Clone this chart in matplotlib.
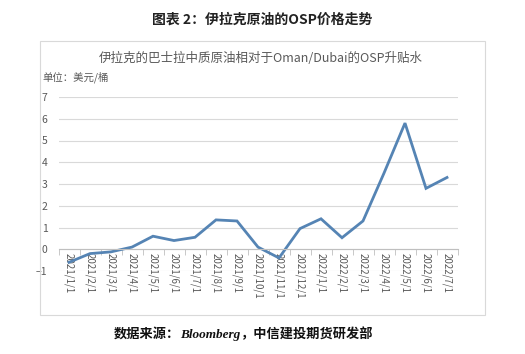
import matplotlib
matplotlib.use("Agg")
import matplotlib.pyplot as plt
from matplotlib.patches import Rectangle

plt.rcParams['font.family'] = ['Noto Sans CJK SC', 'DejaVu Sans']

# monthly OSP premium/discount, USD/bbl
months = ['2021/1/1', '2021/2/1', '2021/3/1', '2021/4/1', '2021/5/1', '2021/6/1',
          '2021/7/1', '2021/8/1', '2021/9/1', '2021/10/1', '2021/11/1', '2021/12/1',
          '2022/1/1', '2022/2/1', '2022/3/1', '2022/4/1', '2022/5/1', '2022/6/1',
          '2022/7/1']
osp = [-0.6, -0.2, -0.12, 0.1, 0.6, 0.4, 0.55, 1.35, 1.3, 0.1, -0.4, 0.95,
       1.4, 0.53, 1.3, 3.5, 5.8, 2.8, 3.3]
yticks = [-1, 0, 1, 2, 3, 4, 5, 6, 7]

grey = '#595959'
W, H = 525, 354

fig = plt.figure(figsize=(W / 100, H / 100), dpi=100)
fig.patch.set_facecolor('white')

# chart frame
fig.add_artist(Rectangle((40 / W, 1 - 315 / H), 445 / W, 274 / H,
                         transform=fig.transFigure, fill=False,
                         edgecolor='#d9d9d9', lw=0.8))

ax = fig.add_axes([58.5 / W, 1 - 271 / H, 399 / W, 174 / H])
x = list(range(len(months)))
ax.plot(x, osp, color='#5584b4', lw=2.0, solid_joinstyle='miter')

ax.set_xlim(-0.5, len(months) - 0.5)
ax.set_ylim(-1, 7)
ax.set_yticks(yticks)
ax.yaxis.grid(True, color='#d9d9d9', lw=0.8)
ax.set_axisbelow(True)
for s in ['top', 'right', 'left']:
    ax.spines[s].set_visible(False)
ax.spines['bottom'].set_position(('data', 0))
ax.spines['bottom'].set_color('#bfbfbf')
ax.tick_params(axis='y', length=0, labelsize=7.5, colors=grey, pad=8)
ax.set_xticks(x)
ax.set_xticklabels(months, rotation=270, fontsize=7, color=grey)
ax.tick_params(axis='x', length=0, pad=3)
ax.set_xticks([i + 0.5 for i in range(-1, len(months))], minor=True)
ax.tick_params(axis='x', which='minor', length=4, color='#bfbfbf', direction='out')

fig.text(262 / W, 1 - 20 / H, '图表 2：伊拉克原油的OSP价格走势',
         ha='center', va='center', fontsize=10, fontweight='bold', color='#222222')
fig.text(261 / W, 1 - 58 / H, '伊拉克的巴士拉中质原油相对于Oman/Dubai的OSP升贴水',
         ha='center', va='center', fontsize=9, color=grey)
fig.text(42 / W, 1 - 77 / H, '单位：美元/桶', ha='left', va='center',
         fontsize=7.5, color=grey)

# source line: CJK pieces + serif bold italic "Bloomberg"
src_kw = dict(fontsize=9.5, fontweight='bold', color='#111111', va='bottom')
t1 = fig.text(114 / W, 1 - 341 / H, '数据来源：', **src_kw)
t2 = ax.annotate('Bloomberg', xy=(1, 0), xycoords=t1, ha='left',
                 family='Liberation Serif', style='italic',
                 annotation_clip=False, **src_kw)
ax.annotate('，中信建投期货研发部', xy=(1, 0), xycoords=t2, ha='left',
            annotation_clip=False, **src_kw)

fig.savefig('out.png', dpi=100)
